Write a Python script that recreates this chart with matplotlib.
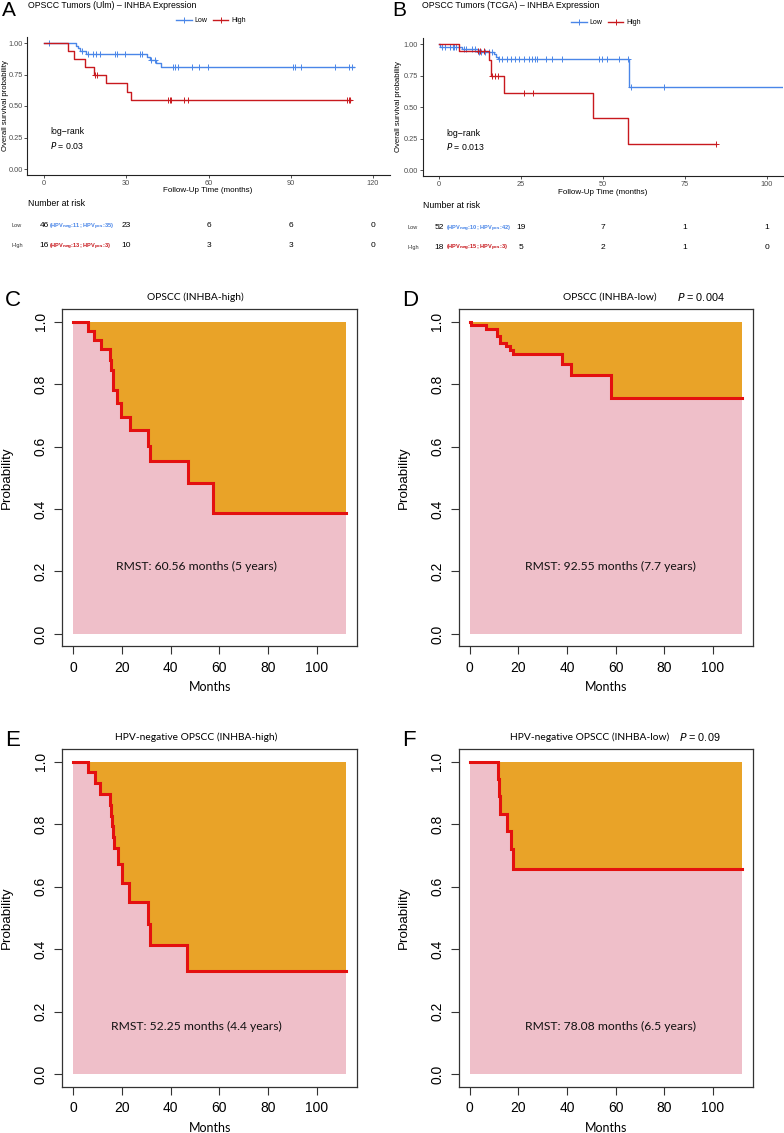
import matplotlib
matplotlib.use("Agg")
import matplotlib.pyplot as plt
import matplotlib.transforms as mtransforms
from matplotlib.lines import Line2D
import numpy as np

W, H = 784, 1133

# ---- panel A: Ulm cohort, Kaplan-Meier (months) ----
a_low_t = [0, 11.8, 12.5, 13.0, 15.2, 37.6, 38.5, 41.0, 42.5]
a_low_s = [1.0, 0.978, 0.957, 0.935, 0.913, 0.889, 0.864, 0.838, 0.811]
a_low_end = 113.0
a_low_cens = [1.7, 13.8, 16.1, 17.9, 19.1, 20.4, 25.9, 26.7, 29.5, 35.0, 35.6,
              38.9, 40.4, 47.1, 47.8, 48.8, 53.9, 56.6, 59.8, 90.7, 91.6, 93.7,
              106.1, 111.2, 112.4]
a_high_t = [0, 8.7, 10.9, 15.1, 18.2, 22.8, 30.2, 31.6]
a_high_s = [1.0, 0.9375, 0.875, 0.8125, 0.75, 0.682, 0.614, 0.545]
a_high_end = 111.8
a_high_cens = [18.6, 19.2, 45.4, 46.0, 46.4, 51.2, 52.4, 110.6, 111.2, 111.6]
a_risk_times = [0, 30, 60, 90, 120]
a_risk_low = [46, 23, 6, 6, 0]
a_risk_high = [16, 10, 3, 3, 0]
a_hpv_low = (11, 35)
a_hpv_high = (13, 3)

# ---- panel B: TCGA cohort ----
b_low_t = [0, 0.3, 7.0, 11.9, 16.7, 17.4, 18.0, 57.9]
b_low_s = [1.0, 0.981, 0.962, 0.942, 0.921, 0.901, 0.882, 0.661]
b_low_end = 110.0
b_low_cens = [0.9, 1.9, 3.5, 4.2, 4.7, 5.2, 7.5, 8.2, 10.1, 11.1, 12.3, 12.9,
              14.1, 15.2, 16.2, 18.2, 19.2, 20.8, 21.8, 23.3, 24.3, 25.8, 27.4,
              28.4, 29.4, 29.9, 32.5, 34.5, 37.5, 48.7, 49.7, 51.3, 54.8, 57.7,
              58.5, 68.6]
b_high_t = [0, 6.0, 15.2, 16.0, 19.7, 46.9, 57.7]
b_high_s = [1.0, 0.944, 0.875, 0.744, 0.615, 0.41, 0.205]
b_high_end = 84.3
b_high_cens = [11.9, 12.6, 13.6, 16.2, 17.0, 18.0, 25.8, 28.6, 84.3]
b_risk_times = [0, 25, 50, 75, 100]
b_risk_low = [52, 19, 7, 1, 1]
b_risk_high = [18, 5, 2, 1, 0]
b_hpv_low = (10, 42)
b_hpv_high = (15, 3)

# ---- panels C-F: RMST plots ----
c_t = [0, 6.0, 8.4, 11.3, 15.0, 15.5, 16.2, 18.0, 19.6, 23.2, 30.8, 31.6, 47.3, 57.5]
c_s = [1.0, 0.970, 0.941, 0.912, 0.877, 0.845, 0.781, 0.740, 0.696, 0.654, 0.601,
       0.553, 0.484, 0.387]
d_t = [0, 0.4, 6.8, 11.3, 12.3, 14.8, 16.8, 17.8, 37.8, 41.5, 58.0]
d_s = [1.0, 0.989, 0.978, 0.956, 0.933, 0.922, 0.909, 0.896, 0.866, 0.829, 0.755]
e_t = [0, 6.1, 8.9, 10.9, 15.3, 15.6, 15.9, 16.3, 16.6, 18.3, 20.0, 22.8, 30.8,
       31.6, 46.9]
e_s = [1.0, 0.966, 0.931, 0.897, 0.862, 0.828, 0.793, 0.759, 0.724, 0.672, 0.613,
       0.551, 0.482, 0.413, 0.331]
f_t = [0, 11.6, 12.1, 12.4, 15.3, 17.2, 18.0]
f_s = [1.0, 0.944, 0.889, 0.833, 0.778, 0.722, 0.656]
rmst_tmax = 112.0

BLUE = "#4A86E8"
DRED = "#C8191E"
PINK = "#EFBFC9"
ORANGE = "#E9A328"
RED = "#E41010"

plt.rcParams["font.family"] = ["Liberation Sans", "DejaVu Sans"]

fig = plt.figure(figsize=(W / 100, H / 100), dpi=100)


def px_axes(x0, y0, x1, y1):
    return fig.add_axes([x0 / W, 1 - y1 / H, (x1 - x0) / W, (y1 - y0) / H])


def fx(px):
    return px / W


def fy(py):
    return 1 - py / H


def step_val(t, s, x):
    i = np.searchsorted(t, x, side="right") - 1
    return np.asarray(s)[i]


def km_panel(ax, curves, xlim, xticks):
    for t, s, end, cens, col in curves:
        ax.step(list(t) + [end], list(s) + [s[-1]], where="post", color=col, lw=1.0)
        ax.plot(cens, step_val(t, s, cens), "+", color=col, ms=4, mew=0.7)
    ax.set_xlim(*xlim)
    ax.set_ylim(-0.05, 1.05)
    ax.set_xticks(xticks)
    ax.set_yticks([0, 0.25, 0.5, 0.75, 1.0])
    ax.set_yticklabels(["0.00", "0.25", "0.50", "0.75", "1.00"])
    for sp in ["top", "right"]:
        ax.spines[sp].set_visible(False)
    for sp in ["left", "bottom"]:
        ax.spines[sp].set_color("#222222")
        ax.spines[sp].set_linewidth(0.8)
    ax.tick_params(length=2.5, width=0.6, color="#333333", labelsize=5.3,
                   labelcolor="#4d4d4d", pad=1.0)


def risk_rows(ax, x_left, times, low, high, hpv_low, hpv_high, y_low, y_high,
              x_lab, x_hpv):
    tr = mtransforms.blended_transform_factory(ax.transData, fig.transFigure)
    fig.text(fx(x_left), fy(y_low - 22), "Number at risk", fontsize=6.3,
             va="center")
    for yy, name, vals, hpv, col in [(y_low, "Low", low, hpv_low, BLUE),
                                     (y_high, "High", high, hpv_high, DRED)]:
        fig.text(fx(x_lab), fy(yy), name, fontsize=4.0, color="#333333",
                 va="center", ha="left")
        for tt, v in zip(times, vals):
            ax.text(tt, fy(yy), str(v), transform=tr, fontsize=6.0, ha="center",
                    va="center")
        ax.text(x_hpv, fy(yy + 1),
                r"(HPV$_{\mathbf{neg}}$:%d; HPV$_{\mathbf{pos}}$:%d)" % hpv,
                transform=tr, fontsize=4.1, color=col, fontweight="bold",
                ha="left", va="center")


# panel A
axA = px_axes(27.5, 36.7, 389.5, 175.3)
km_panel(axA, [(a_low_t, a_low_s, a_low_end, a_low_cens, BLUE),
               (a_high_t, a_high_s, a_high_end, a_high_cens, DRED)],
         (-6, 126), a_risk_times)
axA.text(2.2, 0.30, "log\u2212rank", fontsize=6.3, va="center")
axA.text(2.2, 0.19, "$P$ = 0.03", fontsize=6.3, va="center")
fig.text(fx(2), fy(11), "A", fontsize=15, va="center")
fig.text(fx(28), fy(5), "OPSCC Tumors (Ulm) \u2013 INHBA Expression", fontsize=6.3,
         va="center")
fig.text(fx(208), fy(190), "Follow-Up Time (months)", fontsize=5.8, ha="center",
         va="center")
fig.text(fx(6), fy(106), "Overall survival probability", fontsize=5.6,
         rotation=90, ha="center", va="center")
risk_rows(axA, 28, a_risk_times, a_risk_low, a_risk_high, a_hpv_low, a_hpv_high,
          225.7, 245.7, 12, 1.9)

# panel B
axB = px_axes(422.6, 38.0, 783.4, 176.3)
km_panel(axB, [(b_low_t, b_low_s, b_low_end, b_low_cens, BLUE),
               (b_high_t, b_high_s, b_high_end, b_high_cens, DRED)],
         (-5, 105), b_risk_times)
axB.text(2.1, 0.29, "log\u2212rank", fontsize=6.3, va="center")
axB.text(2.1, 0.19, "$P$ = 0.013", fontsize=6.3, va="center")
fig.text(fx(392), fy(10), "B", fontsize=15, va="center")
fig.text(fx(422), fy(6), "OPSCC Tumors (TCGA) \u2013 INHBA Expression",
         fontsize=6.3, va="center")
fig.text(fx(603), fy(192), "Follow-Up Time (months)", fontsize=5.8, ha="center",
         va="center")
fig.text(fx(399), fy(107), "Overall survival probability", fontsize=5.6,
         rotation=90, ha="center", va="center")
risk_rows(axB, 423, b_risk_times, b_risk_low, b_risk_high, b_hpv_low, b_hpv_high,
          227.7, 247.3, 407, 2.1)

# legends for A and B
handles = [Line2D([0], [0], color=BLUE, lw=1, marker="+", ms=4.5, mew=0.7),
           Line2D([0], [0], color=DRED, lw=1, marker="+", ms=4.5, mew=0.7)]
for cx, cy in [(211, 21), (606, 22.7)]:
    fig.legend(handles, ["Low", "High"], loc="center", ncol=2, frameon=False,
               fontsize=5.0, handlelength=2.2, handletextpad=0.4,
               columnspacing=0.8, bbox_to_anchor=(fx(cx), fy(cy)))


def rmst_panel(ax, t, s, label_x, label_y, label):
    tt = list(t) + [rmst_tmax]
    ss = list(s) + [s[-1]]
    ax.fill_between(tt, 0, ss, step="post", color=PINK, lw=0)
    ax.fill_between(tt, ss, 1, step="post", color=ORANGE, lw=0)
    ax.step(tt, ss, where="post", color=RED, lw=2.2, solid_joinstyle="miter")
    ax.set_xlim(-0.04 * rmst_tmax, 1.04 * rmst_tmax)
    ax.set_ylim(-0.04, 1.04)
    ax.set_xticks([0, 20, 40, 60, 80, 100])
    ax.set_yticks([0, 0.2, 0.4, 0.6, 0.8, 1.0])
    ax.set_yticklabels(["0.0", "0.2", "0.4", "0.6", "0.8", "1.0"], rotation=90,
                       va="center")
    for sp in ax.spines.values():
        sp.set_color("#333333")
        sp.set_linewidth(0.9)
    ax.tick_params(length=5.5, width=0.8, color="#333333", labelsize=10, pad=5)
    ax.text(label_x, label_y, label, family="Lato", fontsize=8.7, ha="center",
            va="center", color="#111111")


panels = [
    ("C", c_t, c_s, (62.3, 309.3, 357, 646.4), "OPSCC (INHBA-high)", None,
     "RMST: 60.56 months (5 years)", 0.215),
    ("D", d_t, d_s, (458.7, 309.3, 753, 646.4), "OPSCC (INHBA-low)", "0.004",
     "RMST: 92.55 months (7.7 years)", 0.215),
    ("E", e_t, e_s, (62.3, 749.3, 357, 1086.7), "HPV-negative OPSCC (INHBA-high)",
     None, "RMST: 52.25 months (4.4 years)", 0.152),
    ("F", f_t, f_s, (458.7, 749.3, 753, 1086.7), "HPV-negative OPSCC (INHBA-low)",
     "0.09", "RMST: 78.08 months (6.5 years)", 0.152),
]
title_cx = {"C": 195, "D": 610, "E": 196, "F": 590}
p_left = {"D": 677, "F": 679}

for letter, t, s, box, title, pval, rmst, ry in panels:
    x0, y0, x1, y1 = box
    ax = px_axes(x0, y0, x1, y1)
    lx = 50.4 if letter in "CE" else 58.0
    rmst_panel(ax, t, s, lx, ry, rmst)
    ty = y0 - 12
    fig.text(fx(title_cx[letter]), fy(ty), title, family="Lato", fontsize=7.4,
             ha="center", va="center")
    if pval:
        fig.text(fx(p_left[letter]), fy(ty), "$P$ = " + pval, fontsize=7.8,
                 ha="left", va="center")
    fig.text(fx(x0 - 57), fy(y0 - 9), letter, fontsize=16, ha="left",
             va="center")
    fig.text(fx((x0 + x1) / 2), fy(y1 + 41), "Months", family="Lato",
             fontsize=9.0, ha="center", va="center")
    fig.text(fx(x0 - 55), fy((y0 + y1) / 2), "Probability", fontsize=9.6,
             rotation=90, ha="center", va="center")

fig.savefig("out.png", dpi=100)
